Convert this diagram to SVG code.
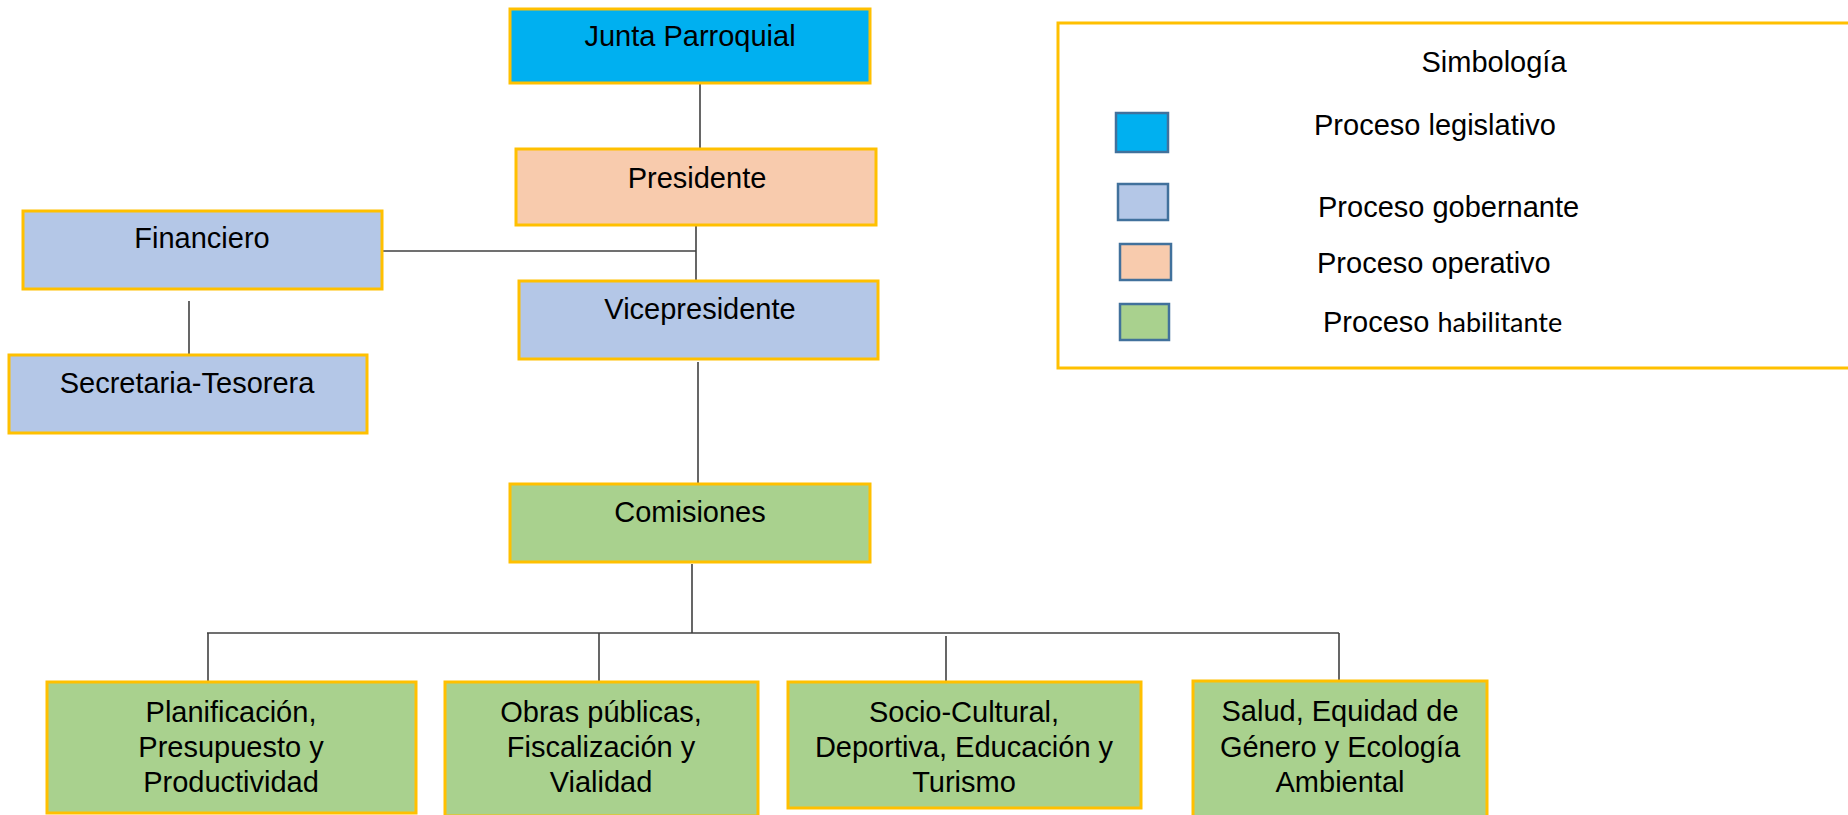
<svg xmlns="http://www.w3.org/2000/svg" width="1848" height="815" viewBox="0 0 1848 815">
<style>
text{font-family:"Liberation Sans",Arial,sans-serif;font-size:29px;fill:#000;text-anchor:middle}
.n{stroke:#FFC000;stroke-width:3}
.leg{stroke:#41719C;stroke-width:2.5}
.blue{fill:#00B0F0}.peach{fill:#F8CBAD}.lav{fill:#B4C7E7}.green{fill:#A9D18E}
.c line{stroke:#404040;stroke-width:1.6}
.lt{text-anchor:start}
</style>
<rect width="1848" height="815" fill="#fff"/>
<g class="c" id="connectors">
<line x1="700" y1="83" x2="700" y2="149"/>
<line x1="696" y1="212" x2="696" y2="282"/>
<line x1="382" y1="251" x2="696" y2="251"/>
<line x1="189" y1="301" x2="189" y2="355"/>
<line x1="698" y1="362" x2="698" y2="484"/>
<line x1="692" y1="564" x2="692" y2="633"/>
<line x1="207" y1="633" x2="1339" y2="633"/>
<line x1="208" y1="633" x2="208" y2="689"/>
<line x1="599" y1="633" x2="599" y2="681"/>
<line x1="946" y1="636" x2="946" y2="687"/>
<line x1="1339" y1="633" x2="1339" y2="684"/>
</g>
<g id="junta"><rect class="n blue" x="510" y="9" width="360" height="74"/><text x="690" y="46">Junta Parroquial</text></g>
<g id="presidente"><rect class="n peach" x="516" y="149" width="360" height="76"/><text x="697" y="188">Presidente</text></g>
<g id="financiero"><rect class="n lav" x="23" y="211" width="359" height="78"/><text x="202" y="248">Financiero</text></g>
<g id="vicepresidente"><rect class="n lav" x="519" y="281" width="359" height="78"/><text x="700" y="319">Vicepresidente</text></g>
<g id="secretaria"><rect class="n lav" x="9" y="355" width="358" height="78"/><text x="187" y="393">Secretaria-Tesorera</text></g>
<g id="comisiones"><rect class="n green" x="510" y="484" width="360" height="78"/><text x="690" y="522">Comisiones</text></g>
<g id="planificacion"><rect class="n green" x="47" y="682" width="369" height="131"/><text x="231" y="722">Planificación,</text><text x="231" y="757">Presupuesto y</text><text x="231" y="792">Productividad</text></g>
<g id="obras"><rect class="n green" x="445" y="682" width="313" height="134"/><text x="601" y="722">Obras públicas,</text><text x="601" y="757">Fiscalización y</text><text x="601" y="792">Vialidad</text></g>
<g id="socio"><rect class="n green" x="788" y="682" width="353" height="126"/><text x="964" y="722">Socio-Cultural,</text><text x="964" y="757">Deportiva, Educación y</text><text x="964" y="792">Turismo</text></g>
<g id="salud"><rect class="n green" x="1193" y="681" width="294" height="136"/><text x="1340" y="721">Salud, Equidad de</text><text x="1340" y="757">Género y Ecología</text><text x="1340" y="792">Ambiental</text></g>
<g id="legend">
<rect class="n" fill="#fff" x="1058" y="23" width="795" height="345"/>
<text x="1494" y="72">Simbología</text>
<rect class="leg blue" x="1116" y="113" width="52" height="39"/>
<text class="lt" x="1314" y="135">Proceso legislativo</text>
<rect class="leg lav" x="1118" y="184" width="50" height="36"/>
<text class="lt" x="1318" y="217">Proceso gobernante</text>
<rect class="leg peach" x="1120" y="244" width="51" height="36"/>
<text class="lt" x="1317" y="273">Proceso operativo</text>
<rect class="leg green" x="1120" y="304" width="49" height="36"/>
<text class="lt" x="1323" y="332">Proceso <tspan style="font-family:Lato,'Open Sans',sans-serif;font-size:27px">habilitante</tspan></text>
</g>
</svg>
